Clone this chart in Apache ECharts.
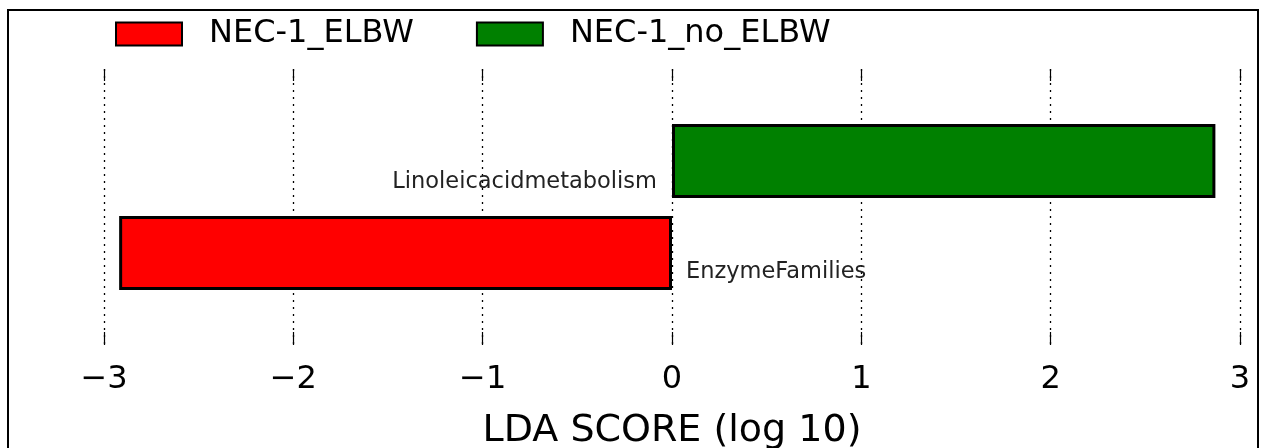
<!DOCTYPE html>
<html>
<head>
<meta charset="utf-8">
<script src="https://cdn.jsdelivr.net/npm/echarts@6/dist/echarts.min.js"></script>
<style>
  html, body { margin: 0; padding: 0; background: #fff; }
  #main { width: 1262px; height: 448px; }
</style>
</head>
<body>
<div id="main"></div>
<script>
// data
var categories = ['EnzymeFamilies', 'Linoleicacidmetabolism'];
var ldaScores = [-2.92, 2.87];
var enrichedIn = ['NEC-1_ELBW', 'NEC-1_no_ELBW'];
var groups = ['NEC-1_ELBW', 'NEC-1_no_ELBW'];
var groupColors = ['#ff0000', '#008000'];
var xTicks = [-3, -2, -1, 0, 1, 2, 3];

var FONT = 'DejaVu Sans';

// empty slot above and below so the bars sit in the middle like matplotlib
var yCats = [''].concat(categories).concat(['']);

function seriesFor(g, idx) {
  var data = yCats.map(function () { return '-'; });
  categories.forEach(function (c, i) {
    if (enrichedIn[i] == g) data[i + 1] = ldaScores[i];
  });
  var positive = idx == 1;
  return {
    name: g,
    type: 'bar',
    data: data,
    barWidth: 74,
    barGap: '-100%',
    itemStyle: {
      color: groupColors[idx],
      borderColor: '#000',
      borderWidth: 3
    },
    label: {
      show: true,
      formatter: '{b}',
      position: positive ? 'left' : 'right',
      distance: positive ? 15 : 14,
      offset: positive ? [0, 21] : [0, 19],
      fontFamily: FONT,
      fontSize: 22.5,
      color: '#222'
    },
    emphasis: { disabled: true }
  };
}

var chart = echarts.init(document.getElementById('main'), null, { renderer: 'canvas' });

var option = {
  backgroundColor: '#ffffff',
  animation: false,
  textStyle: { fontFamily: FONT },
  graphic: [{
    type: 'rect',
    shape: { x: 8, y: 10, width: 1250, height: 470 },
    style: { fill: null, stroke: '#000', lineWidth: 2 },
    silent: true
  }],
  legend: {
    data: groups,
    icon: 'rect',
    left: 110,
    top: 13,
    itemWidth: 66,
    itemHeight: 23,
    itemGap: 62,
    textStyle: { fontFamily: FONT, fontSize: 32, color: '#000', padding: [0, 0, 0, 22] },
    selectedMode: false
  },
  grid: { left: 104, right: 22, top: 69, bottom: 103, outerBoundsMode: 'none' },
  xAxis: [{
    type: 'value',
    min: xTicks[0],
    max: xTicks[xTicks.length - 1],
    interval: 1,
    position: 'bottom',
    name: 'LDA SCORE (log 10)',
    nameLocation: 'middle',
    nameGap: 67,
    nameTextStyle: { fontFamily: FONT, fontSize: 38, color: '#000' },
    axisLine: { show: false },
    axisTick: { show: true, inside: true, length: 13, lineStyle: { color: '#000', width: 1.2 } },
    axisLabel: {
      fontFamily: FONT, fontSize: 32, color: '#000', margin: 19,
      formatter: function (v) { return v < 0 ? '\u2212' + Math.abs(v) : String(v); }
    },
    splitLine: { show: true, lineStyle: { color: '#000', width: 1.3, type: [2, 5] } }
  }, {
    type: 'value',
    min: xTicks[0],
    max: xTicks[xTicks.length - 1],
    interval: 1,
    position: 'top',
    axisLine: { show: false },
    axisTick: { show: true, inside: true, length: 12, lineStyle: { color: '#000', width: 1.2 } },
    axisLabel: { show: false },
    splitLine: { show: false }
  }],
  yAxis: {
    type: 'category',
    data: yCats,
    boundaryGap: false,
    axisLine: { show: false },
    axisTick: { show: false },
    axisLabel: { show: false },
    splitLine: { show: false }
  },
  series: groups.map(seriesFor)
};

chart.setOption(option);
</script>
</body>
</html>
